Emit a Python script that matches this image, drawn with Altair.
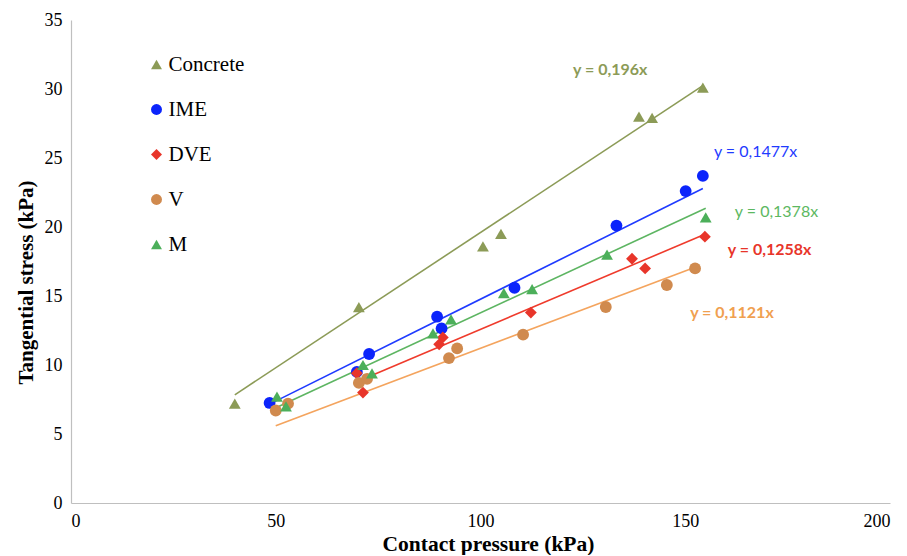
import altair as alt
import pandas as pd

series = ["Concrete", "IME", "DVE", "V", "M"]
point_colors = ["#8C9B57", "#0B24FB", "#E8352A", "#D08A4E", "#4CAF5A"]
line_colors = ["#8C9B57", "#1F3BFF", "#EF3B2C", "#F4A45E", "#5DB562"]
shapes = ["triangle-up", "circle", "diamond", "circle", "triangle-up"]

concrete_x = [40.0, 70.3, 100.6, 105.0, 138.7, 141.9, 154.3]
concrete_y = [7.2, 14.2, 18.6, 19.5, 28.0, 27.9, 30.1]
ime_x = [48.5, 69.8, 72.8, 89.4, 90.5, 108.3, 133.2, 150.1, 154.3]
ime_y = [7.25, 9.5, 10.8, 13.5, 12.65, 15.6, 20.1, 22.6, 23.7]
dve_x = [69.8, 71.3, 89.9, 90.8, 112.3, 137.0, 140.2, 154.8]
dve_y = [9.4, 8.0, 11.5, 12.0, 13.8, 17.7, 17.0, 19.3]
v_x = [50.0, 53.0, 70.3, 72.3, 92.3, 94.3, 110.4, 130.6, 145.5, 152.4]
v_y = [6.7, 7.2, 8.7, 9.0, 10.5, 11.2, 12.2, 14.2, 15.8, 17.0]
m_x = [50.3, 52.5, 71.3, 73.5, 88.4, 92.8, 105.7, 112.6, 130.9, 155.0]
m_y = [7.7, 7.0, 10.0, 9.4, 12.3, 13.3, 15.2, 15.5, 18.0, 20.7]

slopes = [0.196, 0.1477, 0.1258, 0.1121, 0.1378]
eq_labels = ["y = 0,196x", "y = 0,1477x", "y = 0,1258x", "y = 0,1121x", "y = 0,1378x"]
eq_bold = [True, False, True, True, False]
eq_colors = ["#8C9B57", "#1F3BFF", "#E8352A", "#F0A050", "#5CB861"]
eq_x = [122.6, 157.0, 160.4, 151.2, 162.1]
eq_y = [31.4, 25.4, 18.3, 13.8, 21.1]

xs = [concrete_x, ime_x, dve_x, v_x, m_x]
ys = [concrete_y, ime_y, dve_y, v_y, m_y]

rows = []
for s, xv, yv in zip(series, xs, ys):
    for a, b in zip(xv, yv):
        rows.append({"series": s, "x": a, "y": b})
pts = pd.DataFrame(rows)

xscale = alt.Scale(domain=[0, 200], nice=False, zero=True)
yscale = alt.Scale(domain=[0, 35], nice=False, zero=True)

xaxis = alt.Axis(values=[0, 50, 100, 150, 200], grid=False, ticks=False,
                 domainColor="#BFBFBF", domainWidth=1.2, labelFont="Liberation Serif", labelFontSize=18,
                 labelColor="black", labelPadding=9, title="Contact pressure (kPa)",
                 titleFont="Liberation Serif", titleFontSize=21.5, titleFontWeight="bold",
                 titleColor="black", titlePadding=3, titleX=417)
yaxis = alt.Axis(values=[0, 5, 10, 15, 20, 25, 30, 35], grid=False, ticks=False,
                 domainColor="#BFBFBF", domainWidth=1.2, labelFont="Liberation Serif", labelFontSize=18,
                 labelColor="black", labelPadding=9, title="Tangential stress (kPa)",
                 titleFont="Liberation Serif", titleFontSize=21, titleFontWeight="bold",
                 titleColor="black", titlePadding=8, titleY=262)

line_layers = []
for i, (s, xv, k) in enumerate(zip(series, xs, slopes)):
    ldf = pd.DataFrame({"x": [min(xv), max(xv)], "y": [k * min(xv), k * max(xv)]})
    enc = dict(x=alt.X("x:Q", scale=xscale), y=alt.Y("y:Q", scale=yscale))
    if i == 0:
        enc = dict(x=alt.X("x:Q", scale=xscale, axis=xaxis), y=alt.Y("y:Q", scale=yscale, axis=yaxis))
    line_layers.append(alt.Chart(ldf).mark_line(strokeWidth=1.6, color=line_colors[i]).encode(**enc))

leg = alt.Legend(title=None, orient="none", legendX=75, legendY=34,
                 labelFont="Liberation Serif", labelFontSize=21,
                 labelColor="black", symbolSize=120, rowPadding=23,
                 labelOffset=1.5)

point_layer = alt.Chart(pts).mark_point(filled=True, opacity=1, size=140).encode(
    x=alt.X("x:Q", scale=xscale),
    y=alt.Y("y:Q", scale=yscale),
    color=alt.Color("series:N", scale=alt.Scale(domain=series, range=point_colors), legend=leg),
    shape=alt.Shape("series:N", scale=alt.Scale(domain=series, range=shapes), legend=leg),
)

ann = pd.DataFrame({"label": eq_labels, "x": eq_x, "y": eq_y})
text_layers = []
for i in range(len(eq_labels)):
    text_layers.append(
        alt.Chart(ann.iloc[[i]]).mark_text(
            align="left", baseline="middle", font="Lato", fontSize=16,
            fontWeight="bold" if eq_bold[i] else "normal", color=eq_colors[i]
        ).encode(x=alt.X("x:Q", scale=xscale), y=alt.Y("y:Q", scale=yscale), text="label:N")
    )

chart = alt.layer(*line_layers, point_layer, *text_layers).properties(
    width=819, height=483,
    autosize=alt.AutoSizeParams(type="none"),
    padding={"left": 63, "top": 12, "right": 9, "bottom": 52},
).configure_view(stroke=None)

chart.save("out.html", embed_options={"renderer": "svg", "actions": False})
